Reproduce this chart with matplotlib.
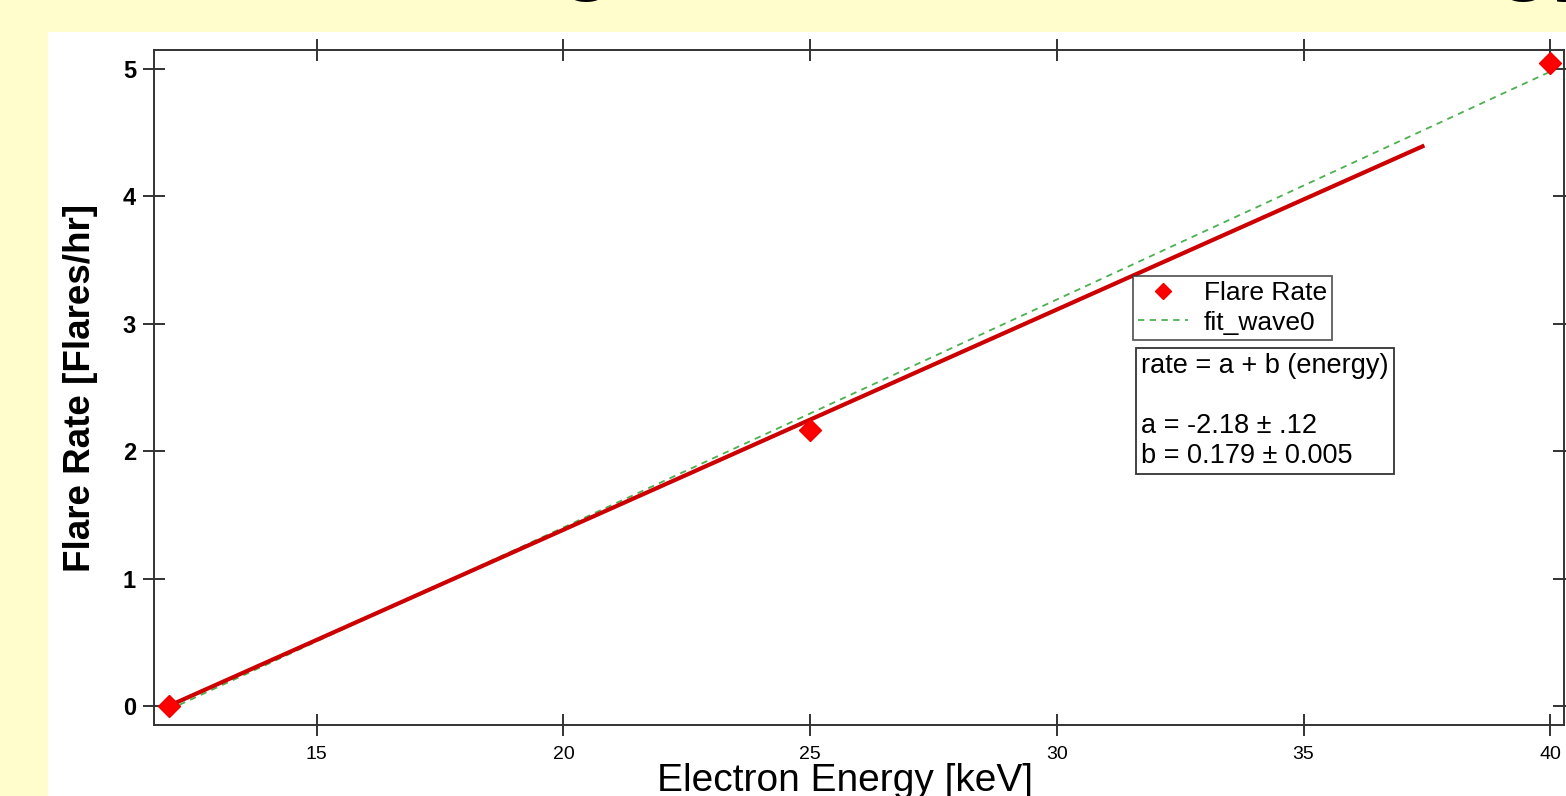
#Flare rate vs electron energy, with linear fit
import matplotlib
matplotlib.use('Agg')
import matplotlib.pyplot as plt
from matplotlib.patches import Rectangle

plt.rcParams['font.family'] = ['Liberation Sans', 'DejaVu Sans']

# measured points
energy = [12, 25, 40]
rate = [0.0, 2.17, 5.05]
# fit_wave0 (dashed green) end points
fit_x = [12, 40]
fit_y = [-0.03, 4.98]
# hand drawn red line
red_x = [12, 37.45]
red_y = [0.0, 4.40]

x_ticks = [15, 20, 25, 30, 35, 40]
y_ticks = [0, 1, 2, 3, 4, 5]
fit_text = "rate = a + b (energy)\n\na = -2.18 \u00b1 .12\nb = 0.179 \u00b1 0.005"
title = "Flare Rate Change with Electron Energy"

fig = plt.figure(figsize=(15.66, 7.96), dpi=100)
fig.patch.set_facecolor('#fffdcc')
# white panel behind the graph
fig.add_artist(Rectangle((48/1566, 0), 1 - 48/1566, (796-32)/796,
                         transform=fig.transFigure, facecolor='white',
                         edgecolor='none', zorder=0))
# slide title, mostly cut off by the top edge
fig.text(1.0237, 1.0213, title, ha='right', va='baseline', fontsize=66,
         fontweight='bold', color='black')

ax = fig.add_axes([154/1566, 71/796, 1410/1566, 675/796])
ax.set_facecolor('white')

ax.plot(fit_x, fit_y, color='#4caf50', lw=1.3, dashes=(3.5, 3), label='fit_wave0', zorder=3)
ax.plot(red_x, red_y, color='#cc0000', lw=3, solid_capstyle='butt', zorder=4)
ax.plot(energy, rate, ls='none', marker='D', ms=11.5, color='#ff0000',
        mec='#ee0000', label='Flare Rate', zorder=5)

ax.set_xlim(11.7, 40.28)
ax.set_ylim(-0.15, 5.15)
ax.set_xticks(x_ticks)
ax.set_yticks(y_ticks)
ax.tick_params(axis='both', direction='inout', length=16, width=1.4, color='#333333',
               top=True, right=True)
ax.tick_params(axis='x', labelsize=14, pad=7)
ax.tick_params(axis='y', labelsize=17, pad=5)
for lab in ax.get_yticklabels():
    lab.set_fontweight('bold')
for s in ax.spines.values():
    s.set_linewidth(1.4)
    s.set_color('#333333')

ax.set_xlabel("Electron Energy [keV]", fontsize=28)
ax.xaxis.set_label_coords(0.49, -0.056, transform=ax.transAxes)
ax.xaxis.label.set_va('top')
ax.set_ylabel("Flare Rate [Flares/hr]", fontsize=26.5, fontweight='bold', labelpad=18)

handles, labels = ax.get_legend_handles_labels()
leg = ax.legend(handles[::-1], labels[::-1], loc='upper left', bbox_to_anchor=(0.694, 0.665),
                fontsize=19, fancybox=False, frameon=True, edgecolor='#333333',
                borderpad=0.2, labelspacing=0.2, handlelength=1.9, handletextpad=0.6,
                borderaxespad=0, markerscale=0.7)
leg.get_frame().set_linewidth(1.3)

ax.text(0.7, 0.551, fit_text, transform=ax.transAxes, ha='left', va='top',
        fontsize=19.5, linespacing=1.2,
        bbox=dict(boxstyle='square,pad=0.2', facecolor='white', edgecolor='#333333', lw=1.3))

fig.savefig('out.png', dpi=100, facecolor=fig.get_facecolor())
